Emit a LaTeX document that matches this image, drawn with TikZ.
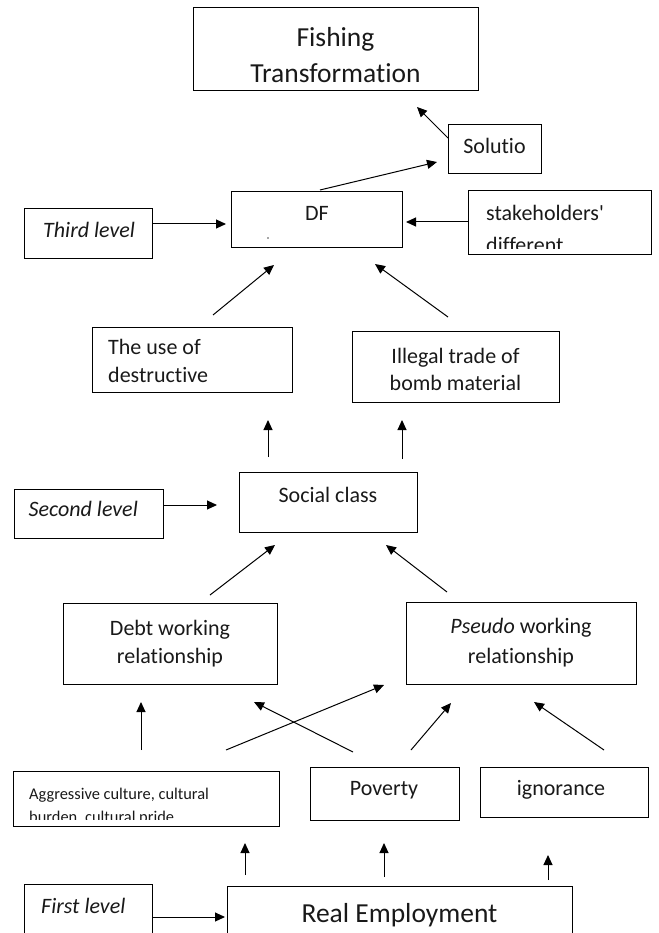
\documentclass[tikz,border=0pt]{standalone}
\usepackage{fontspec}
\setmainfont{Carlito}[Ligatures={TeXOff,CommonOff,ContextualOff,RareOff}]
\usetikzlibrary{arrows.meta}
\begin{document}
\begin{tikzpicture}[x=1pt,y=-1pt,
  box/.style={draw=black, line width=1.1pt, inner sep=0pt, anchor=north west},
  txt/.style={inner sep=0pt, anchor=base, font=\fontsize{22}{28}\selectfont, text=black!90},
  ltxt/.style={txt, anchor=base west},
  bigtxt/.style={txt, font=\fontsize{27.5}{36}\selectfont},
  smalltxt/.style={ltxt, font=\fontsize{16.4}{22}\selectfont},
  arr/.style={draw=black, line width=1pt, -{Triangle[length=10pt,width=9pt]}}]
\useasboundingbox (0,0) rectangle (658,933);
\clip (0,0) rectangle (658,933);

% boxes
\node[box, minimum width=285pt, minimum height=83pt] (fish) at (193,7) {};
\node[box, minimum width=93pt, minimum height=49pt] (sol) at (448,124) {};
\node[box, minimum width=171pt, minimum height=56pt] (df) at (231,191) {};
\node[box, minimum width=128pt, minimum height=50pt] (third) at (24,208) {};
\node[box, minimum width=183pt, minimum height=64pt] (stake) at (468,190) {};
\node[box, minimum width=200pt, minimum height=65pt] (use) at (92,327) {};
\node[box, minimum width=207pt, minimum height=71pt] (illegal) at (352,331) {};
\node[box, minimum width=178pt, minimum height=60pt] (social) at (239,472) {};
\node[box, minimum width=149pt, minimum height=49pt] (second) at (14,489) {};
\node[box, minimum width=214pt, minimum height=81pt] (debt) at (63,603) {};
\node[box, minimum width=230pt, minimum height=82pt] (pseudo) at (406,602) {};
\node[box, minimum width=266pt, minimum height=55pt] (aggr) at (13,771) {};
\node[box, minimum width=149pt, minimum height=53pt] (pov) at (310,767) {};
\node[box, minimum width=168pt, minimum height=50pt] (ign) at (480,767) {};
\node[box, minimum width=128pt, minimum height=80pt] (first) at (24,884) {};
\node[box, minimum width=345pt, minimum height=80pt] (real) at (227,886) {};

% texts
\node[bigtxt] (fisht1) at (335.5,47) {Fishing};
\node[bigtxt] (fisht2) at (335.5,83) {Transformat\kern0pt ion};
\node[txt] (solt) at (494.5,154) {Solutio};
\node[txt] (dft) at (317,221) {DF};
\fill[black!70] (268,238) circle (0.8pt);
\node[ltxt] (thirdt) at (43,237) {\itshape Third level};
\begin{scope}
  \clip (468,190) rectangle (651,248);
  \node[ltxt] (staket1) at (486,221) {stakeholders'};
  \node[ltxt] (staket2) at (486,252) {different};
\end{scope}
\node[ltxt] (uset1) at (108,354) {The use of};
\node[ltxt] (uset2) at (108,382) {destruct\kern0pt ive};
\node[txt] (illt1) at (455.5,363) {Illegal trade of};
\node[txt] (illt2) at (455.5,390) {bomb material};
\node[txt] (socialt) at (328,502) {Social class};
\node[ltxt] (secondt) at (28.5,516) {\itshape Second level};
\node[txt] (debtt1) at (170,635) {Debt working};
\node[txt] (debtt2) at (170,663) {relat\kern0pt ionship};
\node[txt] (pseudot1) at (521,633) {\textit{Pseudo} working};
\node[txt] (pseudot2) at (521,663) {relat\kern0pt ionship};
\begin{scope}
  \clip (13,771) rectangle (279,819);
  \node[smalltxt] (aggrt1) at (29,799) {Aggressive culture, cultural};
  \node[smalltxt] (aggrt2) at (29,822) {burden, cultural pride};
\end{scope}
\node[txt] (povt) at (384,795) {Poverty};
\node[txt] (ignt) at (561,795) {ignorance};
\node[ltxt] (firstt) at (41,913) {\itshape First level};
\node[bigtxt] (realt) at (399.5,922) {Real Employment};

% connector end points
\coordinate (a1s) at (448,138);  \coordinate (a1e) at (417,107);
\coordinate (a2s) at (320,190);  \coordinate (a2e) at (437,162);
\coordinate (a3s) at (152,224);  \coordinate (a3e) at (226,224);
\coordinate (a4s) at (468,222);  \coordinate (a4e) at (406,222);
\coordinate (a5s) at (213,315);  \coordinate (a5e) at (274,265);
\coordinate (a6s) at (448,317);  \coordinate (a6e) at (375,264);
\coordinate (a7s) at (268,457);  \coordinate (a7e) at (268,420);
\coordinate (a8s) at (402,459);  \coordinate (a8e) at (402,420);
\coordinate (a9s) at (163,505);  \coordinate (a9e) at (217,505);
\coordinate (a10s) at (210,595); \coordinate (a10e) at (275,545);
\coordinate (a11s) at (447,592); \coordinate (a11e) at (386,545);
\coordinate (a12s) at (141,750); \coordinate (a12e) at (141,702);
\coordinate (a13s) at (226,750); \coordinate (a13e) at (384,685);
\coordinate (a14s) at (353,752); \coordinate (a14e) at (254,702);
\coordinate (a15s) at (411,750); \coordinate (a15e) at (451,703);
\coordinate (a16s) at (604,750); \coordinate (a16e) at (534,702);
\coordinate (a17s) at (245,875); \coordinate (a17e) at (245,843);
\coordinate (a18s) at (384,877); \coordinate (a18e) at (384,843);
\coordinate (a19s) at (548,880); \coordinate (a19e) at (548,855);
\coordinate (a20s) at (152,917); \coordinate (a20e) at (225,917);

\foreach \i in {1,...,20} {\draw[arr] (a\i s) -- (a\i e);}
\end{tikzpicture}
\end{document}
